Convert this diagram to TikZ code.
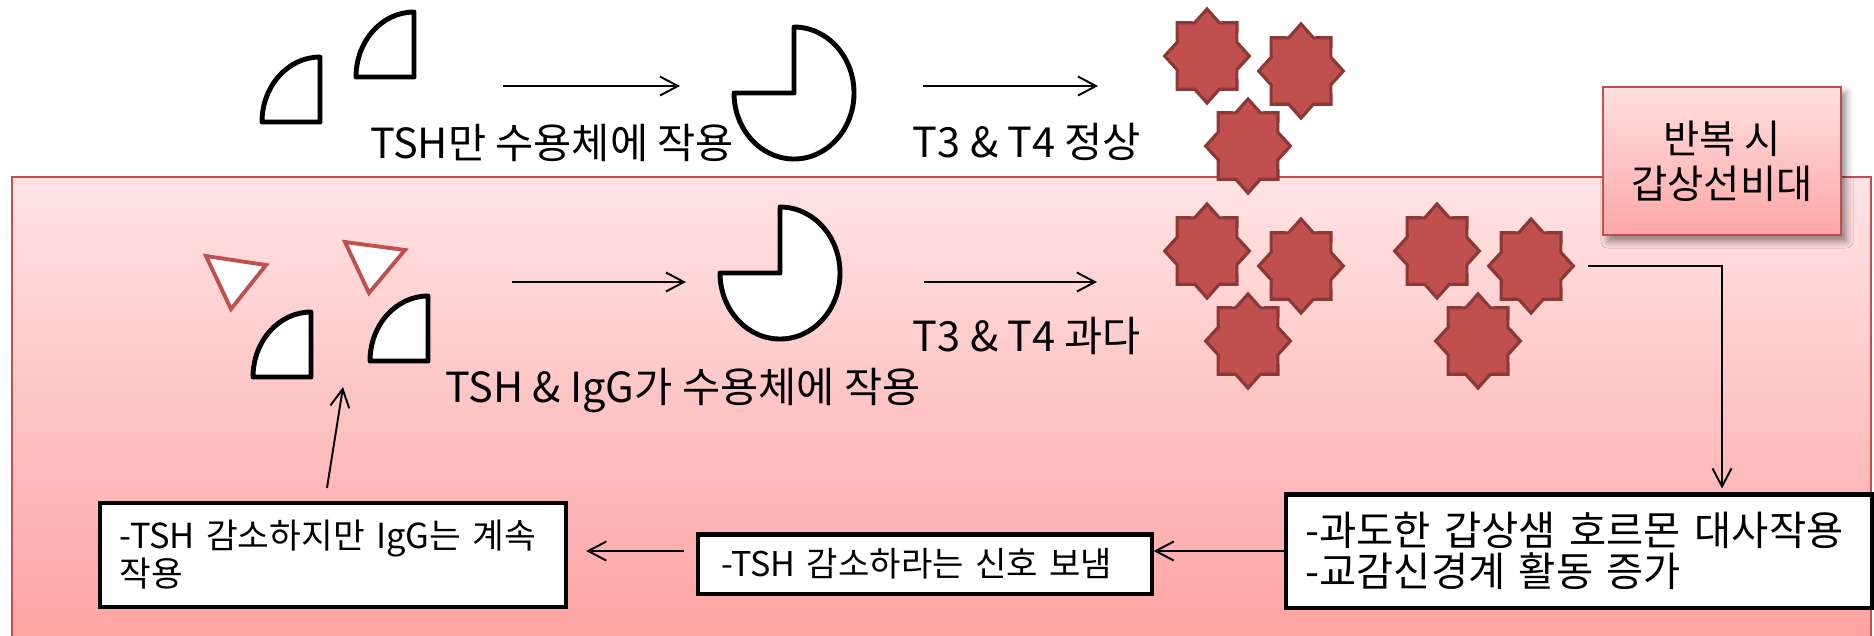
\documentclass[tikz,border=0pt]{standalone}
\usepackage{fontspec}
\setmainfont{Noto Sans CJK KR}
\usetikzlibrary{shapes.geometric,arrows.meta,shadows.blur}

\definecolor{accred}{RGB}{192,80,77}
\definecolor{stardark}{RGB}{140,56,54}
\definecolor{pinktop}{RGB}{255,228,229}
\definecolor{pinkbot}{RGB}{255,160,160}
\definecolor{boxtop}{RGB}{255,224,224}
\definecolor{boxbot}{RGB}{255,166,166}

\tikzset{
>={Straight Barb[length=1.8mm,width=1.9mm]},
conn/.style={->, line width=0.55pt},
partline/.style={draw=black, fill=white, line width=1.4pt, line join=round},
iggline/.style={draw=accred, fill=white, line width=1.1pt, line join=miter},
hormone/.style={star, star points=8, star point ratio=1.31, minimum size=0.94cm,
  inner sep=0pt, xscale=0.9, fill=accred, draw=stardark, line width=0.9pt},
lbl/.style={font=\fontsize{11.8}{14}\selectfont, anchor=base, inner sep=0pt},
panel/.style={draw=accred, line width=0.6pt, top color=pinktop, bottom color=pinkbot},
notebox/.style={draw=black, fill=white, line width=1.15pt, align=left, inner ysep=0pt},
tshpart/.pic={\draw[partline] (0,0) -- (-58,0) .. controls (-58,-36) and (-32,-65) .. (0,-65) -- cycle;},
receptor/.pic={\draw[partline] (0,-66) arc[start angle=-90, end angle=180, x radius=60, y radius=66] -- (0,0) -- cycle;},
}

\begin{document}
\begin{tikzpicture}[x=0.01cm, y=-0.01cm]
    \useasboundingbox (0,0) rectangle (1874,635);

    % lower part: repeated stimulation
    \draw[panel] (12,177) rectangle (1871,660);

    % TSH alone
    \pic at (320,122) {tshpart};
    \pic at (414,77) {tshpart};
    \coordinate (a1s) at (503,86);
    \coordinate (a1e) at (680,86);
    \draw[conn] (a1s) -- (a1e);
    \pic at (794,93) {receptor};
    \node[lbl] (onlytsh) at (552,158) {TSH만 수용체에 작용};

    \coordinate (a2s) at (923,86);
    \coordinate (a2e) at (1098,86);
    \draw[conn] (a2s) -- (a2e);
    \node[lbl] (normal) at (1027,157) {T3 \& T4 정상};

    \node[hormone] (s1) at (1207,56) {};
    \node[hormone] (s2) at (1301,71) {};
    \node[hormone] (s3) at (1248,146) {};

    \node[draw=accred, line width=0.6pt, top color=boxtop, bottom color=boxbot,
          minimum width=2.38cm, minimum height=1.48cm, align=center,
          font=\fontsize{11.2}{12.8}\selectfont,
          blur shadow={shadow xshift=0.5mm, shadow yshift=-0.6mm, shadow blur radius=0.7mm, shadow opacity=45}]
          (grow) at (1722,161) {반복 시\\갑상선비대};

    % TSH and IgG together
    \draw[iggline] (206,256) -- (266,265) -- (231,309) -- cycle;
    \draw[iggline] (345,242) -- (405,250) -- (369,293) -- cycle;
    \pic at (311,377) {tshpart};
    \pic at (428,361) {tshpart};
    \coordinate (a3s) at (512,282);
    \coordinate (a3e) at (686,282);
    \draw[conn] (a3s) -- (a3e);
    \pic at (780,273) {receptor};
    \node[lbl] (both) at (683,402) {TSH \& IgG가 수용체에 작용};

    \coordinate (a4s) at (924,282);
    \coordinate (a4e) at (1097,282);
    \draw[conn] (a4s) -- (a4e);
    \node[lbl] (excessT) at (1027,351) {T3 \& T4 과다};

    \node[hormone] (s4) at (1207,251) {};
    \node[hormone] (s5) at (1301,266) {};
    \node[hormone] (s6) at (1248,341) {};
    \node[hormone] (s7) at (1437,251) {};
    \node[hormone] (s8) at (1531,266) {};
    \node[hormone] (s9) at (1478,341) {};

    % feedback loop
    \node[notebox, text width=5.47cm, inner xsep=0.19cm, minimum height=1.13cm,
          font=\fontsize{11.5}{11.7}\selectfont] (excess) at (1579,551)
          {-과도한 갑상샘 호르몬 대사작용\\-교감신경계 활동 증가};
    \node[notebox, text width=4.07cm, inner xsep=0.23cm, minimum height=0.59cm,
          font=\fontsize{9.7}{10.8}\selectfont] (signal) at (925,564)
          {-TSH 감소하라는 신호 보냄};
    \node[notebox, text width=4.26cm, inner xsep=0.2cm, minimum height=1.04cm,
          font=\fontsize{9.8}{10.8}\selectfont] (keepon) at (333,555)
          {-TSH 감소하지만 IgG는 계속\\작용};

    \draw[conn, shorten >=0.4mm] ([xshift=0.13cm]s8.east) -| (excess.north -| grow.south);
    \draw[conn] (excess.west) -- (excess.west -| signal.east);
    \draw[conn, shorten <=1.2mm, shorten >=1.8mm] (signal.west |- excess.west) -- (keepon.east |- excess.west);
    \coordinate (bind) at (343,387);
    \draw[conn] ([shift={(-6,-13)}]keepon.north) -- (bind);
\end{tikzpicture}
\end{document}
